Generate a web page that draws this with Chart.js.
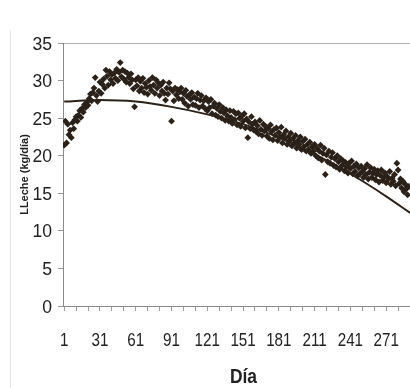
<!DOCTYPE html>
<html>
<head>
<meta charset="utf-8">
<title>Producción de leche por día</title>
<script src="https://cdn.jsdelivr.net/npm/chart.js@4/dist/chart.umd.min.js"></script>
<style>
  html, body { margin: 0; padding: 0; background: #ffffff; }
  #wrap { position: relative; width: 410px; height: 388px; }
</style>
</head>
<body>
<div id="wrap"><canvas id="c" width="410" height="388"></canvas></div>
<script>
// Daily milk yield (kg/día), one value per lactation day starting at day 1
const milkYield = [
  21.4, 24.6, 21.7, 24.2, 22.8, 23.4, 22.4, 24.4, 23.6, 24.8,
  25.2, 24.6, 25.4, 26.0, 25.1, 26.3, 25.8, 26.8, 26.4, 27.1,
  26.7, 27.6, 28.2, 27.3, 28.4, 29.0, 30.4, 28.0, 27.2, 28.6,
  29.8, 28.3, 29.5, 30.2, 29.0, 31.4, 30.6, 29.4, 31.2, 30.1,
  30.8, 29.6, 31.0, 30.3, 31.5, 30.0, 31.1, 32.4, 30.5, 31.4,
  30.2, 31.2, 29.8, 31.0, 30.4, 29.6, 30.9, 30.1, 28.9, 26.5,
  30.1, 29.3, 30.4, 28.6, 29.9, 29.0, 30.3, 28.4, 29.6, 29.1,
  28.2, 30.0, 29.2, 28.7, 30.4, 29.4, 28.3, 30.1, 29.0, 29.7,
  28.0, 29.4, 28.6, 29.8, 28.3, 27.4, 29.0, 28.2, 29.7, 28.9,
  24.6, 28.6, 27.3, 29.0, 28.1, 28.8, 27.6, 28.5, 29.0, 27.5,
  28.3, 27.0, 28.7, 27.9, 26.6, 28.1, 27.5, 28.4, 26.8, 27.8,
  26.7, 27.6, 28.3, 26.4, 27.4, 28.0, 26.6, 27.3, 26.3, 27.7,
  26.0, 27.2, 26.4, 27.5, 25.6, 26.6, 27.0, 25.4, 26.3, 25.2,
  26.8, 25.9, 25.0, 26.4, 25.7, 24.7, 26.1, 25.3, 24.6, 26.0,
  25.1, 24.3, 25.9, 24.8, 25.6, 24.1, 25.7, 25.0, 23.9, 25.3,
  24.6, 25.6, 23.7, 24.9, 22.4, 24.5, 23.6, 25.2, 24.2, 23.4,
  24.5, 23.2, 24.0, 22.9, 24.7, 23.5, 22.7, 24.2, 23.3, 23.9,
  22.6, 23.6, 22.3, 24.1, 23.2, 22.1, 23.5, 22.7, 23.7, 22.0,
  23.1, 22.5, 23.8, 21.7, 22.8, 22.3, 23.3, 21.5, 22.5, 22.0,
  23.0, 21.3, 22.3, 21.7, 22.7, 21.0, 22.0, 21.5, 22.5, 20.8,
  21.9, 21.2, 22.2, 20.6, 21.5, 20.8, 21.8, 20.3, 21.2, 20.6,
  21.5, 20.0, 21.0, 19.7, 20.6, 21.4, 19.4, 20.3, 21.0, 17.5,
  20.1, 19.2, 20.6, 19.0, 19.8, 20.4, 18.7, 19.6, 18.5, 20.0,
  19.2, 18.2, 19.6, 18.7, 19.3, 18.0, 19.1, 18.5, 17.7, 19.0,
  18.3, 19.3, 17.6, 18.6, 17.9, 18.9, 17.3, 18.4, 17.6, 18.6,
  17.9, 17.1, 18.3, 17.5, 18.8, 16.9, 17.8, 18.4, 17.1, 17.7,
  18.2, 16.8, 17.5, 18.0, 16.5, 17.4, 18.1, 16.7, 17.1, 17.7,
  16.4, 17.2, 16.9, 17.9, 16.2, 17.0, 16.6, 17.5, 16.0, 19.0,
  18.1, 16.3, 16.9, 15.7, 16.6, 15.2, 16.2, 15.6, 14.8, 15.9
];

// Fitted lactation curve, sampled every 30 days
const curveDays   = [1, 31, 61, 91, 121, 151, 181, 211, 241, 271, 291];
const curveYield  = [27.2, 27.4, 27.2, 26.5, 25.5, 24.2, 22.4, 20.2, 17.6, 14.6, 12.4];

// Axis ticks and titles
const xTickLabels = [1, 31, 61, 91, 121, 151, 181, 211, 241, 271];
const xMinorStep  = 10;
const yTicks      = [0, 5, 10, 15, 20, 25, 30, 35];
const xTitle      = 'Día';
const yTitle      = 'LLeche (kg/día)';

const ink = '#2b2119';
const textColor = '#222222';
const sans = "'Liberation Sans', Arial, sans-serif";

const milkPoints  = milkYield.map((v, i) => ({ x: i + 1, y: v }));
const curvePoints = curveDays.map((d, i) => ({ x: d, y: curveYield[i] }));

// faint scan edge on the left
const edgeLine = {
  id: 'edgeLine',
  beforeDraw(chart) {
    const ctx = chart.ctx;
    ctx.save();
    ctx.strokeStyle = 'rgba(0,0,0,0.10)';
    ctx.lineWidth = 1;
    ctx.beginPath();
    ctx.moveTo(10.5, 30);
    ctx.lineTo(10.5, 388);
    ctx.stroke();
    ctx.restore();
  }
};

// Axis numbers and the x title in a condensed (narrow) rendering
function narrowText(ctx, text, x, y, font, squeeze, align) {
  ctx.save();
  ctx.font = font;
  ctx.textAlign = align;
  ctx.textBaseline = 'alphabetic';
  ctx.translate(x, y);
  ctx.scale(squeeze, 1);
  ctx.fillText(text, 0, 0);
  ctx.restore();
}
const narrowLabels = {
  id: 'narrowLabels',
  afterDraw(chart) {
    const { ctx, scales: { x, y } } = chart;
    ctx.save();
    ctx.fillStyle = textColor;
    yTicks.forEach(v => {
      narrowText(ctx, String(v), 52, y.getPixelForValue(v) + 6.6, '18.5px ' + sans, 0.95, 'right');
    });
    xTickLabels.forEach(v => {
      narrowText(ctx, String(v), x.getPixelForValue(v), 345.5, '19px ' + sans, 0.8, 'center');
    });
    narrowText(ctx, xTitle, 243.5, 383, 'bold 21px ' + sans, 0.83, 'center');
    ctx.restore();
  }
};

new Chart(document.getElementById('c'), {
  type: 'scatter',
  data: {
    datasets: [
      {
        label: 'Curva ajustada',
        data: curvePoints,
        showLine: true,
        borderColor: ink,
        borderWidth: 2,
        pointRadius: 0,
        cubicInterpolationMode: 'monotone',
        order: 0
      },
      {
        label: 'Leche',
        data: milkPoints,
        pointStyle: 'rectRot',
        pointRadius: 3.4,
        borderWidth: 0,
        backgroundColor: ink,
        borderColor: ink,
        order: 1
      }
    ]
  },
  options: {
    responsive: false,
    animation: false,
    events: [],
    layout: { autoPadding: false, padding: { top: 43, right: 0, bottom: 0, left: 0 } },
    plugins: { legend: { display: false }, tooltip: { enabled: false } },
    scales: {
      x: {
        type: 'linear',
        min: 0,
        max: 291,
        afterBuildTicks(scale) {
          const t = [];
          for (let v = 1; v <= 291; v += xMinorStep) t.push({ value: v });
          scale.ticks = t;
        },
        afterFit(scale) {
          scale.height = 82;
          scale.paddingLeft = 0;
          scale.paddingRight = 0;
        },
        ticks: { display: false, autoSkip: false },
        grid: {
          drawOnChartArea: false,
          drawTicks: true,
          tickLength: 5,
          tickColor: '#9a9a9a'
        },
        border: { display: true, color: '#8a8a8a', width: 1 },
        title: { display: false }
      },
      y: {
        min: 0,
        max: 35,
        afterBuildTicks(scale) { scale.ticks = yTicks.map(v => ({ value: v })); },
        afterFit(scale) {
          scale.width = 63;
          scale.paddingTop = 0;
          scale.paddingBottom = 0;
        },
        ticks: { display: false },
        grid: {
          color: (c) => (c.tick && c.tick.value === 35) ? '#b0b0b0' : 'rgba(0,0,0,0)',
          drawTicks: true,
          tickLength: 5,
          tickColor: '#9a9a9a'
        },
        border: { display: true, color: '#8a8a8a', width: 1 },
        title: {
          display: true,
          text: yTitle,
          color: textColor,
          font: { family: sans, size: 11, weight: 'bold' },
          padding: { top: 18, bottom: 0 }
        }
      }
    }
  },
  plugins: [edgeLine, narrowLabels]
});
</script>
</body>
</html>
